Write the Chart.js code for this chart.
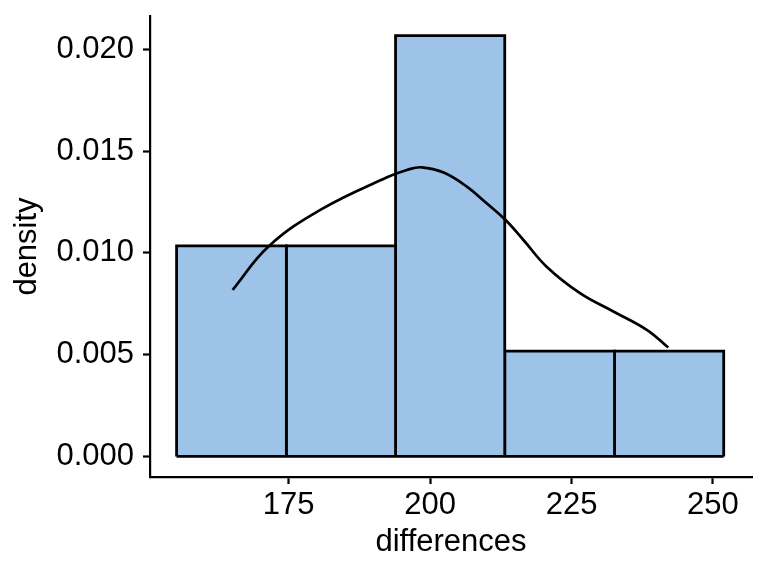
<!DOCTYPE html>
<html>
<head>
<meta charset="utf-8">
<script src="https://cdn.jsdelivr.net/npm/chart.js@4/dist/chart.umd.min.js"></script>
<style>
  html, body { margin: 0; padding: 0; background: #fff; }
</style>
</head>
<body>
<canvas id="myChart" width="768" height="576"></canvas>
<script>
// histogram bins (differences) and their densities
var binEdges = [155.2, 174.6, 193.9, 213.2, 232.6, 251.9];
var binDensity = [0.01034, 0.01034, 0.02067, 0.00517, 0.00517];

// smoothed density curve
var densX = [165.1, 171.4, 180.6, 192.4, 195.9, 198.5, 202.4, 206.5, 210.0, 213.3, 216.5, 220.6, 226.5, 232.4, 238.3, 242.1];
var densY = [0.00818, 0.01030, 0.01211, 0.01371, 0.01407, 0.01420, 0.01394, 0.01325, 0.01243, 0.01162, 0.01063, 0.00932, 0.00802, 0.00712, 0.00622, 0.00535];

var xTicks = [175, 200, 225, 250];
var yTicks = [0.000, 0.005, 0.010, 0.015, 0.020];

var fontFamily = '"Liberation Sans", Arial, Helvetica, sans-serif';

var datasets = [];

datasets.push({
  label: 'density',
  data: densX.map(function(x, i){ return {x: x, y: densY[i]}; }),
  borderColor: '#000',
  borderWidth: 2.7,
  pointRadius: 0,
  fill: false,
  tension: 0.4,
  order: 0
});

// bottom edge of the bars
datasets.push({
  label: 'base',
  data: [{x: binEdges[0], y: 0}, {x: binEdges[binEdges.length-1], y: 0}],
  borderColor: '#000',
  borderWidth: 2.8,
  pointRadius: 0,
  fill: false,
  order: 0
});

var i;
for(i = 0; i < binDensity.length; i++){
  var x0 = binEdges[i], x1 = binEdges[i+1], d = binDensity[i];
  datasets.push({
    label: 'bin' + i,
    data: [{x:x0,y:0},{x:x0,y:d},{x:x1,y:d},{x:x1,y:0}],
    borderColor: '#000',
    borderWidth: 2.8,
    borderJoinStyle: 'miter',
    backgroundColor: 'rgb(157,195,232)',
    pointRadius: 0,
    tension: 0,
    fill: 'origin',
    order: 1
  });
}

var ctx = document.getElementById('myChart');

var histChart = new Chart(ctx, {
  type: 'line',
  data: { datasets: datasets },
  options: {
    responsive: false,
    animation: false,
    layout: { padding: { top: 16, right: 16, left: 0, bottom: 0 } },
    plugins: {
      legend: { display: false },
      tooltip: { enabled: false }
    },
    scales: {
      x: {
        type: 'linear',
        min: 150.5,
        max: 256.9,
        afterFit: function(scale){
          scale.height = 99;
          scale.paddingLeft = 0;
          scale.paddingRight = 0;
        },
        afterBuildTicks: function(scale){
          scale.ticks = xTicks.map(function(v){ return {value: v}; });
        },
        grid: { display: true, drawOnChartArea: false, drawTicks: true, tickLength: 7, tickWidth: 2.2, tickColor: '#000' },
        border: { display: true, color: '#000', width: 2.2 },
        ticks: {
          color: '#000',
          padding: 3,
          maxRotation: 0,
          font: { family: fontFamily, size: 31 },
          callback: function(v){ return v; }
        },
        title: {
          display: true,
          text: 'differences',
          color: '#000',
          font: { family: fontFamily, size: 31 },
          padding: { top: 0, bottom: 15 }
        }
      },
      y: {
        type: 'linear',
        min: -0.00101,
        max: 0.02163,
        afterFit: function(scale){
          scale.width = 150;
          scale.paddingTop = 0;
          scale.paddingBottom = 0;
        },
        afterBuildTicks: function(scale){
          scale.ticks = yTicks.map(function(v){ return {value: v}; });
        },
        grid: { display: true, drawOnChartArea: false, drawTicks: true, tickLength: 7, tickWidth: 2.2, tickColor: '#000' },
        border: { display: true, color: '#000', width: 2.2 },
        ticks: {
          color: '#000',
          padding: 9,
          font: { family: fontFamily, size: 31 },
          callback: function(v){ return v.toFixed(3); }
        },
        title: {
          display: true,
          text: 'density',
          color: '#000',
          font: { family: fontFamily, size: 31 },
          padding: { top: 9, bottom: 0 }
        }
      }
    }
  }
});
</script>
</body>
</html>
